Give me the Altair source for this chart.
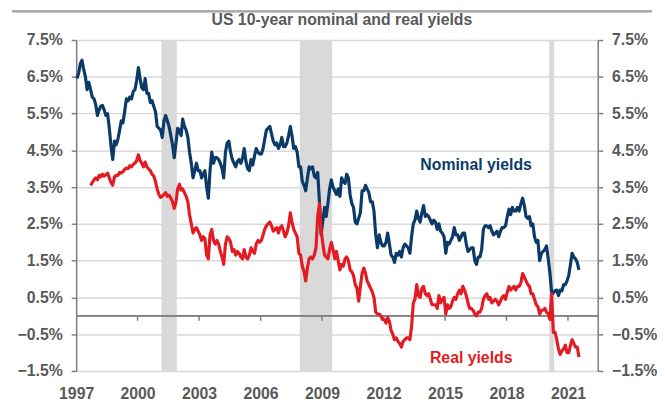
import altair as alt
import pandas as pd

# ---------------- data (monthly readings from the chart, %) ----------------
nominal_1997 = [6.45, 6.60, 6.85, 6.95, 6.70, 6.50, 6.15, 6.35, 6.15, 5.95, 5.90, 5.75]
nominal_1998 = [5.45, 5.60, 5.70, 5.72, 5.60, 5.45, 5.50, 5.10, 4.60, 4.25, 4.75, 4.65]
nominal_1999 = [4.80, 5.05, 5.30, 5.25, 5.55, 5.90, 5.85, 5.95, 5.90, 6.10, 6.15, 6.40]
nominal_2000 = [6.75, 6.45, 6.20, 6.15, 6.45, 6.05, 6.05, 5.80, 5.85, 5.70, 5.55, 5.15]
nominal_2001 = [5.10, 5.05, 4.85, 5.30, 5.45, 5.30, 5.15, 4.90, 4.65, 4.30, 4.70, 5.10]
nominal_2002 = [5.05, 4.90, 5.35, 5.15, 5.05, 4.85, 4.45, 4.15, 3.75, 3.95, 4.15, 3.95]
nominal_2003 = [3.95, 3.75, 3.85, 3.95, 3.50, 3.20, 3.95, 4.45, 4.15, 4.30, 4.30, 4.25]
nominal_2004 = [4.15, 4.00, 3.75, 4.45, 4.70, 4.75, 4.45, 4.25, 4.15, 4.05, 4.20, 4.25]
nominal_2005 = [4.15, 4.30, 4.55, 4.20, 4.00, 3.95, 4.25, 4.10, 4.35, 4.55, 4.45, 4.40]
nominal_2006 = [4.40, 4.55, 4.80, 5.05, 5.10, 5.15, 4.95, 4.75, 4.65, 4.70, 4.55, 4.65]
nominal_2007 = [4.85, 4.60, 4.60, 4.70, 4.90, 5.15, 4.90, 4.55, 4.60, 4.45, 4.05, 4.05]
nominal_2008 = [3.65, 3.55, 3.40, 3.75, 4.05, 4.00, 4.05, 3.80, 3.75, 3.90, 3.10, 2.20]
nominal_2009 = [2.60, 2.95, 2.70, 3.05, 3.45, 3.70, 3.50, 3.40, 3.30, 3.45, 3.25, 3.75]
nominal_2010 = [3.65, 3.60, 3.85, 3.75, 3.30, 3.05, 2.95, 2.55, 2.50, 2.65, 2.80, 3.40]
nominal_2011 = [3.40, 3.55, 3.45, 3.35, 3.10, 3.10, 2.85, 2.20, 1.85, 2.20, 2.00, 1.90]
nominal_2012 = [1.90, 2.00, 2.25, 1.95, 1.65, 1.60, 1.45, 1.70, 1.65, 1.75, 1.60, 1.85]
nominal_2013 = [1.95, 1.90, 1.85, 1.70, 2.15, 2.50, 2.60, 2.85, 2.65, 2.55, 2.80, 3.00]
nominal_2014 = [2.70, 2.75, 2.70, 2.60, 2.50, 2.60, 2.55, 2.35, 2.50, 2.30, 2.25, 2.15]
nominal_2015 = [1.70, 2.00, 1.95, 2.05, 2.15, 2.40, 2.20, 2.20, 2.05, 2.15, 2.25, 2.25]
nominal_2016 = [1.95, 1.75, 1.80, 1.85, 1.85, 1.50, 1.40, 1.60, 1.60, 1.80, 2.35, 2.45]
nominal_2017 = [2.45, 2.40, 2.45, 2.30, 2.20, 2.25, 2.30, 2.15, 2.30, 2.40, 2.40, 2.45]
nominal_2018 = [2.70, 2.90, 2.75, 2.95, 2.85, 2.85, 2.95, 2.85, 3.05, 3.20, 3.00, 2.70]
nominal_2019 = [2.65, 2.70, 2.45, 2.50, 2.15, 2.00, 2.05, 1.50, 1.70, 1.75, 1.80, 1.90]
nominal_2020 = [1.55, 1.15, 0.65, 0.62, 0.68, 0.70, 0.55, 0.70, 0.68, 0.85, 0.85, 0.95]
nominal_2021 = [1.10, 1.40, 1.70, 1.60, 1.55, 1.45, 1.25]

real_1997 = [3.55, 3.62, 3.70, 3.75]  # from Sep 1997
real_1998 = [3.70, 3.82, 3.78, 3.85, 3.80, 3.84, 3.88, 3.75, 3.62, 3.55, 3.78, 3.82]
real_1999 = [3.82, 3.90, 3.88, 3.92, 3.98, 4.02, 4.00, 4.08, 4.05, 4.12, 4.15, 4.22]
real_2000 = [4.38, 4.22, 4.15, 4.05, 4.18, 4.05, 4.00, 3.95, 3.85, 3.80, 3.65, 3.45]
real_2001 = [3.30, 3.22, 3.25, 3.30, 3.35, 3.25, 3.28, 3.20, 3.10, 2.92, 3.10, 3.45]
real_2002 = [3.58, 3.42, 3.45, 3.35, 3.25, 3.10, 2.75, 2.50, 2.25, 2.35, 2.40, 2.30]
real_2003 = [2.20, 2.05, 2.15, 2.10, 1.65, 1.55, 2.20, 2.35, 2.05, 1.95, 2.05, 1.95]
real_2004 = [1.75, 1.60, 1.40, 1.95, 2.15, 2.10, 2.00, 1.75, 1.80, 1.65, 1.75, 1.70]
real_2005 = [1.60, 1.55, 1.80, 1.60, 1.55, 1.65, 1.85, 1.75, 1.70, 1.95, 2.05, 2.00]
real_2006 = [2.05, 2.20, 2.35, 2.45, 2.50, 2.55, 2.45, 2.30, 2.35, 2.40, 2.25, 2.40]
real_2007 = [2.45, 2.30, 2.15, 2.25, 2.45, 2.80, 2.55, 2.35, 2.25, 2.15, 1.70, 1.65]
real_2008 = [1.35, 1.20, 0.95, 1.30, 1.55, 1.60, 1.55, 1.65, 1.85, 2.70, 3.05, 2.35]
real_2009 = [1.95, 1.65, 1.60, 1.55, 1.80, 2.00, 1.80, 1.55, 1.75, 1.50, 1.25, 1.40]
real_2010 = [1.35, 1.55, 1.60, 1.50, 1.25, 1.20, 1.10, 0.85, 0.75, 0.40, 0.80, 1.15]
real_2011 = [1.30, 1.15, 0.95, 0.85, 0.75, 0.65, 0.50, 0.10, 0.05, 0.05, 0.00, -0.10]
real_2012 = [-0.10, -0.20, -0.05, -0.15, -0.40, -0.50, -0.65, -0.60, -0.70, -0.75, -0.85, -0.70]
real_2013 = [-0.65, -0.60, -0.60, -0.65, -0.30, 0.35, 0.45, 0.85, 0.55, 0.50, 0.75, 0.80]
real_2014 = [0.60, 0.55, 0.60, 0.45, 0.30, 0.30, 0.30, 0.20, 0.55, 0.35, 0.45, 0.50]
real_2015 = [0.05, 0.30, 0.20, 0.25, 0.40, 0.50, 0.45, 0.60, 0.70, 0.60, 0.80, 0.70]
real_2016 = [0.55, 0.35, 0.20, 0.20, 0.15, 0.05, 0.00, 0.10, 0.10, 0.20, 0.45, 0.55]
real_2017 = [0.60, 0.45, 0.50, 0.35, 0.40, 0.45, 0.40, 0.30, 0.40, 0.50, 0.55, 0.45]
real_2018 = [0.65, 0.80, 0.70, 0.75, 0.80, 0.70, 0.80, 0.80, 0.90, 1.15, 1.05, 0.95]
real_2019 = [0.85, 0.80, 0.60, 0.60, 0.45, 0.30, 0.25, 0.05, 0.15, 0.15, 0.20, 0.10]
real_2020 = [0.05, -0.10, 0.60, -0.45, -0.45, -0.65, -0.90, -1.05, -0.95, -0.90, -0.80, -1.00]
real_2021 = [-1.00, -0.80, -0.65, -0.75, -0.85, -0.85, -1.12]

recession_start = ["2001-03-01", "2007-12-01", "2020-02-01"]
recession_end = ["2001-11-30", "2009-06-30", "2020-04-30"]

x_tick_years = [1997, 2000, 2003, 2006, 2009, 2012, 2015, 2018, 2021]
y_ticks = [-1.5, -0.5, 0.5, 1.5, 2.5, 3.5, 4.5, 5.5, 6.5, 7.5]

label_text = ["Nominal yields", "Real yields"]
label_date = ["2016-07-08", "2016-04-12"]
label_value = [4.09, -1.16]

TITLE = "US 10-year nominal and real yields"
NAVY = "#0b3a68"
RED = "#e31b23"
GRAY_TXT = "#595959"
FONT = "Liberation Sans"

# ---------------- assemble tables ----------------
nominal = (nominal_1997 + nominal_1998 + nominal_1999 + nominal_2000 + nominal_2001 +
           nominal_2002 + nominal_2003 + nominal_2004 + nominal_2005 + nominal_2006 +
           nominal_2007 + nominal_2008 + nominal_2009 + nominal_2010 + nominal_2011 +
           nominal_2012 + nominal_2013 + nominal_2014 + nominal_2015 + nominal_2016 +
           nominal_2017 + nominal_2018 + nominal_2019 + nominal_2020 + nominal_2021)
real = (real_1997 + real_1998 + real_1999 + real_2000 + real_2001 + real_2002 +
        real_2003 + real_2004 + real_2005 + real_2006 + real_2007 + real_2008 +
        real_2009 + real_2010 + real_2011 + real_2012 + real_2013 + real_2014 +
        real_2015 + real_2016 + real_2017 + real_2018 + real_2019 + real_2020 + real_2021)

nom_dates = pd.date_range("1997-01-01", periods=len(nominal), freq="MS") + pd.Timedelta(days=14)
real_dates = pd.date_range("1997-09-01", periods=len(real), freq="MS") + pd.Timedelta(days=14)

df_nom = pd.DataFrame({"date": nom_dates, "value": nominal})
df_real = pd.DataFrame({"date": real_dates, "value": real})
df_rec = pd.DataFrame({"date": pd.to_datetime(recession_start), "end": pd.to_datetime(recession_end)})
df_ticks = pd.DataFrame({"date": pd.to_datetime([f"{y}-01-01" for y in x_tick_years[1:]])})
df_labels = pd.DataFrame({"text": label_text, "date": pd.to_datetime(label_date),
                          "value": label_value, "color": [NAVY, RED]})
df_title = pd.DataFrame({"t": [TITLE]})

x_domain = ["1997-01-01", "2022-06-15"]
x_scale = alt.Scale(domain=x_domain)
y_scale = alt.Scale(domain=[-1.5, 7.5], nice=False, zero=False)
x_tick_vals = [f"{y}-01-01" for y in x_tick_years]

common_axis = dict(
    values=y_ticks,
    labelExpr="format(datum.value, '.1f') + '%'",
    title=None,
    domainColor="#7f7f7f", domainWidth=1.5,
    tickColor="#7f7f7f", tickWidth=1.5, tickSize=5,
    labelFontSize=16, labelFontWeight="bold", labelColor=GRAY_TXT, labelFont=FONT,
    labelPadding=9,
)
left_axis = alt.Axis(orient="left", grid=True, gridColor="#d9d9d9", gridWidth=1.5, **common_axis)
right_axis = alt.Axis(orient="right", grid=False, **common_axis)

x_axis = alt.Axis(values=x_tick_vals, format="%Y", title=None, domain=False, ticks=False,
                  grid=False, labelFontSize=16, labelFontWeight="bold", labelColor=GRAY_TXT,
                  labelFont=FONT, labelPadding=15, labelFlush=False, labelOverlap=False)

def X(field):
    return alt.X(field, scale=x_scale, axis=x_axis, title=None)

rec = alt.Chart(df_rec).mark_rect(color="#d9d9d9").encode(
    x=X("date:T"),
    x2="end:T",
)

zero = alt.Chart(df_rec).mark_rule(color="#7f7f7f", strokeWidth=1.5).encode(
    y=alt.YDatum(0, scale=y_scale, axis=None),
)

ticks = alt.Chart(df_ticks).mark_rule(color="#7f7f7f", strokeWidth=1.5).encode(
    x=X("date:T"),
    y=alt.YDatum(0, scale=y_scale, axis=None),
    y2=alt.value(284.2),
)

nom_line = alt.Chart(df_nom).mark_line(color=NAVY, strokeWidth=3.2, strokeJoin="round").encode(
    x=X("date:T"),
    y=alt.Y("value:Q", scale=y_scale, axis=left_axis),
)

real_line = alt.Chart(df_real).mark_line(color=RED, strokeWidth=3.2, strokeJoin="round").encode(
    x=X("date:T"),
    y=alt.Y("value:Q", scale=y_scale, axis=right_axis),
)

labels = alt.Chart(df_labels).mark_text(fontSize=16, fontWeight="bold", font=FONT,
                                        align="center", baseline="middle").encode(
    x=X("date:T"),
    y=alt.Y("value:Q", scale=y_scale, axis=None),
    text="text:N",
    color=alt.Color("color:N", scale=None, legend=None),
)

title_text = alt.Chart(df_title).mark_text(fontSize=16, fontWeight="bold", font=FONT,
                                           color=GRAY_TXT, align="center",
                                           baseline="middle").encode(
    text="t:N", x=alt.value(269), y=alt.value(-20),
)

top_line = alt.Chart(df_rec).mark_rule(color="#a6a6a6", strokeWidth=2).encode(
    x=alt.value(-65), x2=alt.value(583), y=alt.value(-29),
)

chart = alt.layer(rec, zero, ticks, nom_line, real_line, labels, title_text, top_line).resolve_axis(
    y="independent"
).properties(
    width=528, height=335,
    padding={"left": 69, "top": 30, "right": 60, "bottom": 29},
    autosize=alt.AutoSizeParams(type="none"),
).configure_view(stroke=None).configure(font=FONT)

chart.save("out.html", embed_options={"renderer": "svg", "actions": False})
